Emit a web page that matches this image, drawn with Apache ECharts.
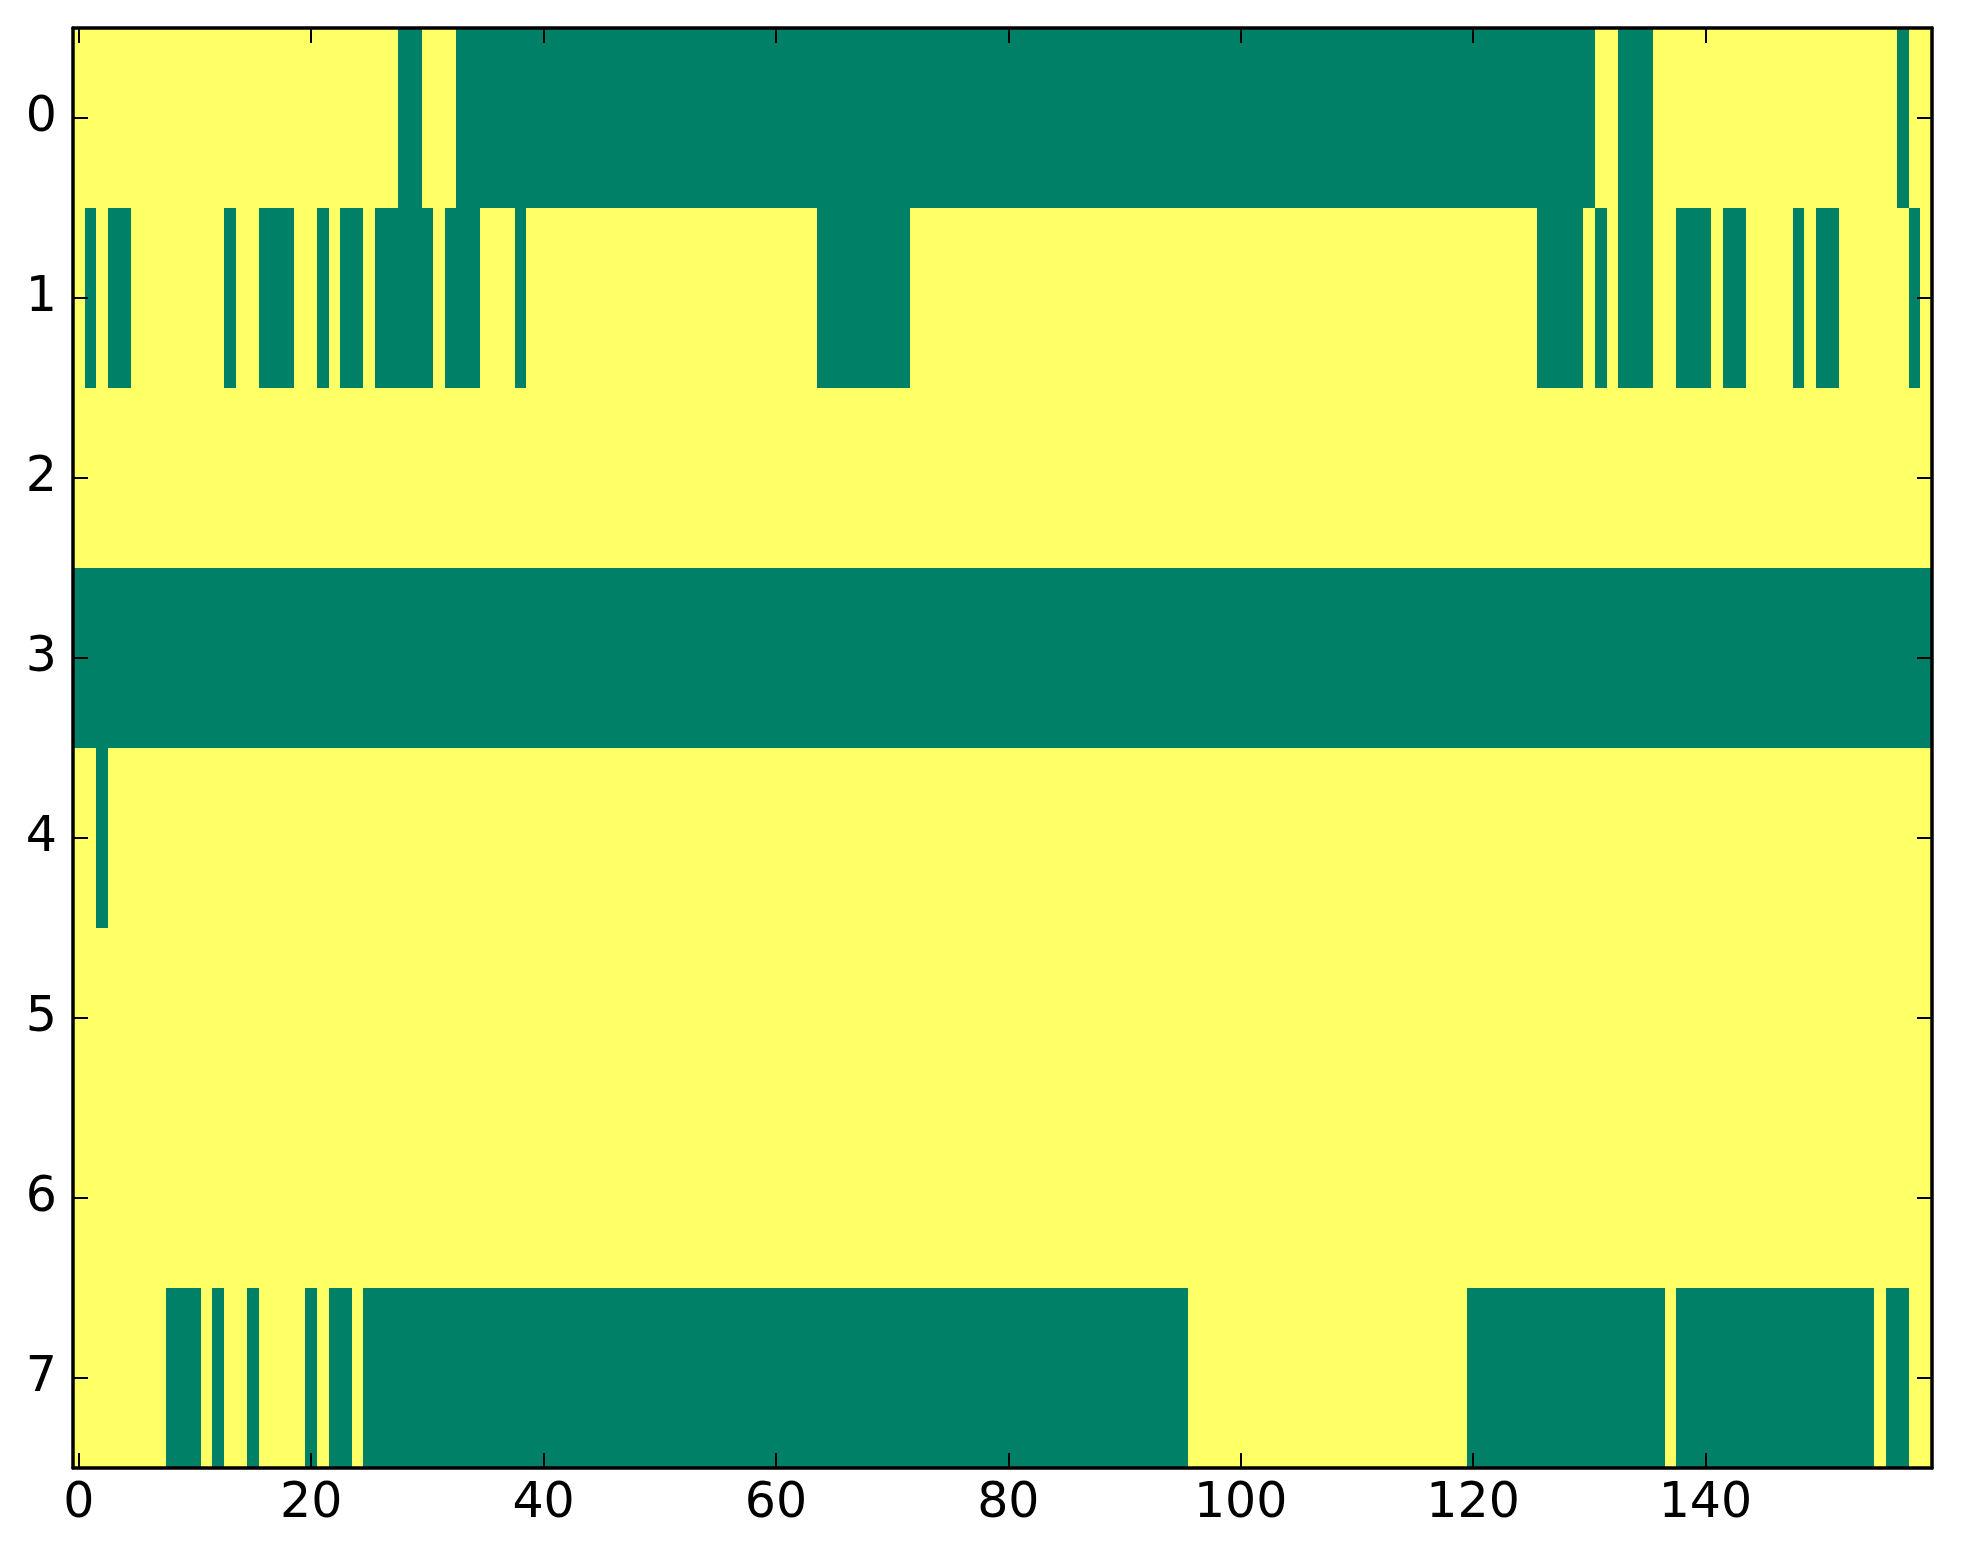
<!DOCTYPE html>
<html>
<head>
<meta charset="utf-8">
<script src="https://cdn.jsdelivr.net/npm/echarts@6/dist/echarts.min.js"></script>
<style>
html,body{margin:0;padding:0;background:#ffffff;}
#chart{width:1963px;height:1564px;}
</style>
</head>
<body>
<div id="chart"></div>
<script>
// ---- data ----
const columnCount = 160;
const rowLabels = ['0', '1', '2', '3', '4', '5', '6', '7'];
// green (value 0) runs per row, inclusive column ranges; all other cells are 1 (yellow)
const row0Green = [[28, 29], [33, 130], [133, 135], [157, 157]];
const row1Green = [[1, 1], [3, 4], [13, 13], [16, 18], [21, 21], [23, 24], [26, 30], [32, 34], [38, 38],
                   [64, 71], [126, 129], [131, 131], [133, 135], [138, 140], [142, 143], [148, 148], [150, 151], [158, 158]];
const row2Green = [];
const row3Green = [[0, 159]];
const row4Green = [[2, 2]];
const row5Green = [];
const row6Green = [];
const row7Green = [[8, 10], [12, 12], [15, 15], [20, 20], [22, 23], [25, 95], [120, 136], [138, 154], [156, 157]];
const xTickStep = 20;

// ---- build: each row split into runs of equal value [startCol, endCol, row, value] ----
const greenRows = [row0Green, row1Green, row2Green, row3Green, row4Green, row5Green, row6Green, row7Green];
const xCategories = [];
for (let i = 0; i < columnCount; i++) xCategories.push(String(i));
const segments = [];
greenRows.forEach(function (runs, r) {
  const vals = [];
  for (let c = 0; c < columnCount; c++) {
    let v = 1;
    runs.forEach(function (run) { if (c >= run[0] && c <= run[1]) v = 0; });
    vals.push(v);
  }
  let s = 0;
  for (let c = 1; c <= columnCount; c++) {
    if (c === columnCount || vals[c] !== vals[s]) {
      segments.push([s, c - 1, r, vals[s]]);
      s = c;
    }
  }
});

const colors = ['#008066', '#ffff66'];
const font = 'DejaVu Sans';
const lineStyle = { color: '#000000', width: 3.5 };
const tickStyle = { color: '#000000', width: 2 };

function xAxisDef(pos, showLabel) {
  return {
    type: 'category', data: xCategories, position: pos, z: 10,
    axisLine: { show: true, onZero: false, lineStyle: lineStyle },
    axisTick: { show: true, inside: true, length: 15, interval: xTickStep - 1, alignWithLabel: true, lineStyle: tickStyle },
    axisLabel: { show: showLabel, interval: xTickStep - 1, margin: 12, fontFamily: font, fontSize: 49, color: '#000000' },
    splitLine: { show: false }
  };
}
function yAxisDef(pos, showLabel) {
  return {
    type: 'category', data: rowLabels, position: pos, inverse: true, z: 10,
    axisLine: { show: true, onZero: false, lineStyle: lineStyle },
    axisTick: { show: true, inside: true, length: 15, alignWithLabel: true, lineStyle: tickStyle },
    axisLabel: { show: showLabel, margin: 16, fontFamily: font, fontSize: 49, color: '#000000' },
    splitLine: { show: false }
  };
}

const chart = echarts.init(document.getElementById('chart'), null, { renderer: 'canvas' });
chart.setOption({
  backgroundColor: '#ffffff',
  animation: false,
  grid: { left: 73, top: 28, right: 31, bottom: 96, containLabel: false },
  xAxis: [xAxisDef('bottom', true), xAxisDef('top', false)],
  yAxis: [yAxisDef('left', true), yAxisDef('right', false)],
  series: [{
    type: 'custom', xAxisIndex: 0, yAxisIndex: 0,
    data: segments,
    encode: { x: [0, 1], y: 2 },
    silent: true,
    renderItem: function (params, api) {
      const a = api.coord([api.value(0), api.value(2)]);
      const b = api.coord([api.value(1), api.value(2)]);
      const sz = api.size([1, 1]);
      const x0 = Math.round(a[0] - sz[0] / 2);
      const x1 = Math.round(b[0] + sz[0] / 2);
      const y0 = Math.round(a[1] - sz[1] / 2);
      const y1 = Math.round(a[1] + sz[1] / 2);
      return {
        type: 'rect',
        shape: { x: x0, y: y0, width: x1 - x0, height: y1 - y0 },
        style: { fill: colors[api.value(3)], stroke: null, lineWidth: 0 }
      };
    }
  }]
});
</script>
</body>
</html>
